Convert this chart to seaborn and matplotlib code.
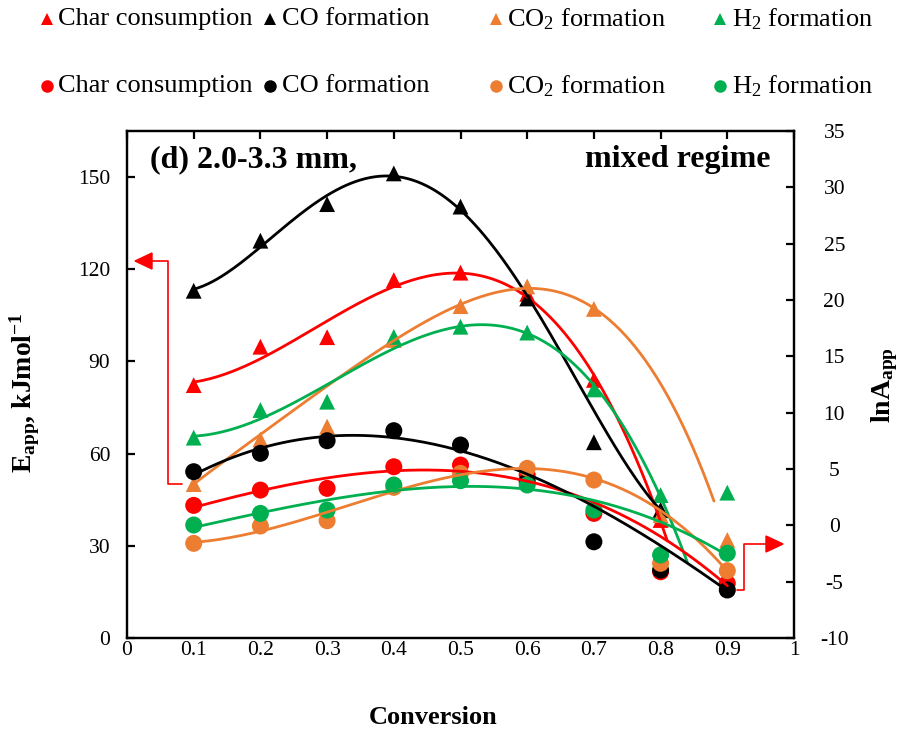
import numpy as np
import pandas as pd
import matplotlib
matplotlib.use("Agg")
import matplotlib.pyplot as plt
from matplotlib.lines import Line2D
from matplotlib.patches import Polygon
import seaborn as sns

# ---------------- data ----------------
conversion = [0.1, 0.2, 0.3, 0.4, 0.5, 0.6, 0.7, 0.8, 0.9]
series_names = ["Char consumption", "CO formation", "CO$_2$ formation", "H$_2$ formation"]

# Apparent activation energy, kJ/mol (triangles, left axis)
eapp_char = [82.3, 94.8, 97.9, 116.5, 118.9, 112.0, 84.0, 38.4, 18.0]
eapp_co = [113.0, 129.3, 141.2, 151.2, 140.4, 110.5, 63.7, 41.7, 19.0]
eapp_co2 = [50.1, 64.6, 68.8, 97.0, 108.0, 114.4, 107.1, 40.0, 31.9]
eapp_h2 = [65.2, 74.2, 76.9, 98.0, 101.3, 99.4, 80.9, 46.5, 47.3]

# ln of pre-exponential factor (circles, right axis)
lna_char = [1.77, 3.13, 3.28, 5.20, 5.35, 4.46, 1.06, -4.12, -5.15]
lna_co = [4.76, 6.39, 7.51, 8.40, 7.13, 3.90, -1.46, -3.97, -5.74]
lna_co2 = [-1.60, -0.06, 0.41, 3.37, 4.61, 5.06, 4.02, -3.37, -4.03]
lna_h2 = [0.03, 1.06, 1.36, 3.58, 3.96, 3.58, 1.36, -2.63, -2.48]

x_ticks = [0, 0.1, 0.2, 0.3, 0.4, 0.5, 0.6, 0.7, 0.8, 0.9, 1.0]
x_ticklabels = ["0", "0.1", "0.2", "0.3", "0.4", "0.5", "0.6", "0.7", "0.8", "0.9", "1"]
left_ticks = [0, 30, 60, 90, 120, 150]
right_ticks = [-10, -5, 0, 5, 10, 15, 20, 25, 30, 35]

colors = ["#FF0000", "#000000", "#ED7D31", "#00B050"]

# trendline settings (polynomial fits computed from the data): included points, degree, x-span
fit_E = [
    (list(range(8)), 4, 0.1, 0.81),
    ([0, 1, 2, 3, 4, 5, 7], 4, 0.1, 0.81),
    ([0, 3, 4, 5, 6, 8], 4, 0.1, 0.88),
    (list(range(8)), 3, 0.1, 0.84),
]
fit_A = [
    ([0, 1, 2, 3, 4, 5, 6, 8], 3, 0.1, 0.9),
    ([0, 1, 2, 3, 4, 5, 8], 3, 0.1, 0.9),
    ([0, 1, 2, 3, 4, 5, 6, 8], 3, 0.1, 0.9),
    ([0, 1, 2, 3, 4, 5, 6, 8], 3, 0.1, 0.9),
]

# ---------------- style ----------------
sns.set_theme(style="white")
plt.rcParams["font.family"] = ["Liberation Serif", "DejaVu Serif"]
plt.rcParams["mathtext.fontset"] = "custom"
plt.rcParams["mathtext.rm"] = "Liberation Serif"
plt.rcParams["mathtext.it"] = "Liberation Serif:italic"
plt.rcParams["mathtext.bf"] = "Liberation Serif:bold"
plt.rcParams["axes.unicode_minus"] = False
for key in ("text.color", "axes.labelcolor", "xtick.color", "ytick.color", "axes.edgecolor"):
    plt.rcParams[key] = "black"

W, H = 910, 731
fig = plt.figure(figsize=(W / 100, H / 100), dpi=100)
fig.patch.set_facecolor("white")
L, R, T, B = 127, 794, 131, 638
ax = fig.add_axes([L / W, 1 - B / H, (R - L) / W, (B - T) / H])
ax2 = ax.twinx()

x = np.array(conversion)
E_all = [eapp_char, eapp_co, eapp_co2, eapp_h2]
A_all = [lna_char, lna_co, lna_co2, lna_h2]


def curve_frame(vals, setting, name):
    idx, deg, x0, x1 = setting
    v = np.array(vals)
    coef = np.polyfit(x[idx], v[idx], deg)
    xs = np.linspace(x0, x1, 200)
    return pd.DataFrame({"x": xs, "y": np.polyval(coef, xs), "series": name})


pts_E = pd.concat([pd.DataFrame({"x": conversion, "y": v, "series": n})
                   for v, n in zip(E_all, series_names)])
pts_A = pd.concat([pd.DataFrame({"x": conversion, "y": v, "series": n})
                   for v, n in zip(A_all, series_names)])
cur_E = pd.concat([curve_frame(v, s, n) for v, s, n in zip(E_all, fit_E, series_names)])
cur_A = pd.concat([curve_frame(v, s, n) for v, s, n in zip(A_all, fit_A, series_names)])
pal = dict(zip(series_names, colors))

sns.scatterplot(data=pts_E, x="x", y="y", hue="series", palette=pal, marker="^",
                s=130, linewidth=0, ax=ax, legend=False, zorder=3)
sns.lineplot(data=cur_E, x="x", y="y", hue="series", palette=pal, estimator=None,
             sort=False, lw=2.0, ax=ax, legend=False, zorder=4)
sns.scatterplot(data=pts_A, x="x", y="y", hue="series", palette=pal, marker="o",
                s=150, linewidth=0, ax=ax2, legend=False, zorder=3)
sns.lineplot(data=cur_A, x="x", y="y", hue="series", palette=pal, estimator=None,
             sort=False, lw=2.0, ax=ax2, legend=False, zorder=4)

ax.set_xlim(0, 1)
ax.set_ylim(0, 165)
ax2.set_ylim(-10, 35)
ax.set_xticks(x_ticks)
ax.set_xticklabels(x_ticklabels)
ax.set_yticks(left_ticks)
ax2.set_yticks(right_ticks)
ax.set_xlabel("Conversion", fontsize=19, fontweight="bold", va="center")
ax.xaxis.set_label_coords((433 - L) / (R - L), (B - 717) / (B - T))
ax.set_ylabel(r"E$_\mathbf{app}$, kJmol$^\mathbf{-1}$", fontsize=20, fontweight="bold",
              va="center")
ax.yaxis.set_label_coords((25 - L) / (R - L), (B - 393) / (B - T))
ax2.set_ylabel(r"lnA$_\mathbf{app}$", fontsize=20, fontweight="bold", va="center")
ax2.yaxis.set_label_coords((885 - L) / (R - L), (B - 385) / (B - T))

for a in (ax, ax2):
    for sp in a.spines.values():
        sp.set_color("black")
        sp.set_linewidth(1.6)
    a.tick_params(axis="both", direction="in", length=6, width=1.6, labelsize=15.5,
                  colors="black")
    a.grid(False)
ax.tick_params(axis="x", pad=2, top=True)
ax.tick_params(axis="y", pad=12)
ax2.tick_params(axis="y", pad=29)
for lab in ax2.get_yticklabels():
    lab.set_horizontalalignment("center")

ax.text(0.035, 0.943, "(d) 2.0-3.3 mm,", transform=ax.transAxes, fontsize=23,
        fontweight="bold", ha="left", va="center")
ax.text(0.965, 0.943, "mixed regime", transform=ax.transAxes, fontsize=23,
        fontweight="bold", ha="right", va="center")

# ---------------- legend (two rows above the axes) ----------------
def fx(px):
    return px / W


def fy(py):
    return 1 - py / H


mk_x = [47, 270, 496, 720]
tx_x = [58, 282, 507, 732]
for row_y, mk, ms in ((19, "^", 8.5), (86, "o", 9)):
    for c, n, mx, tx in zip(colors, series_names, mk_x, tx_x):
        fig.add_artist(Line2D([fx(mx)], [fy(row_y)], marker=mk, color=c, ms=ms,
                              mew=0, ls="none", transform=fig.transFigure))
        fig.text(fx(tx), fy(row_y), n, fontsize=19, ha="left", va="center")

# ---------------- red bracket arrows ----------------
red = "#FF0000"
fig.add_artist(Line2D([fx(182), fx(168), fx(168), fx(150)],
                      [fy(484), fy(484), fy(261), fy(261)], color=red, lw=1.2,
                      transform=fig.transFigure))
fig.add_artist(Polygon([[fx(135), fy(261)], [fx(152), fy(253)], [fx(152), fy(269)]],
                       closed=True, color=red, transform=fig.transFigure))
fig.add_artist(Line2D([fx(737), fx(744), fx(744), fx(768)],
                      [fy(590), fy(590), fy(544), fy(544)], color=red, lw=1.2,
                      transform=fig.transFigure))
fig.add_artist(Polygon([[fx(783), fy(544)], [fx(766), fy(536)], [fx(766), fy(552)]],
                       closed=True, color=red, transform=fig.transFigure))

fig.savefig("out.png", dpi=100, facecolor="white")
